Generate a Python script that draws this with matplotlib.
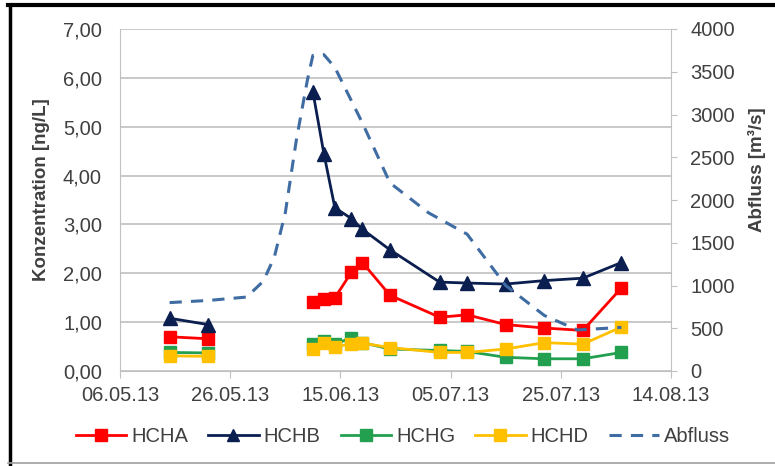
import matplotlib
matplotlib.use('Agg')
import matplotlib.pyplot as plt
import matplotlib.dates as mdates
from matplotlib.lines import Line2D
import numpy as np
import pandas as pd

plt.rcParams['font.family'] = ['Liberation Sans', 'DejaVu Sans']

# Probenahmetermine und Konzentrationen [ng/L]
sample_dates = ['15.05.13', '22.05.13', '10.06.13', '12.06.13', '14.06.13', '17.06.13', '19.06.13',
                '24.06.13', '03.07.13', '08.07.13', '15.07.13', '22.07.13', '29.07.13', '05.08.13']
hcha = [0.70, 0.66, 1.42, 1.48, 1.50, 2.02, 2.22, 1.55, 1.10, 1.15, 0.95, 0.88, 0.83, 1.70]
hchb = [1.08, 0.95, 5.72, 4.45, 3.34, 3.12, 2.90, 2.48, 1.82, 1.80, 1.78, 1.85, 1.90, 2.22]
hchg = [0.38, 0.37, 0.55, 0.62, 0.55, 0.68, 0.58, 0.45, 0.42, 0.40, 0.28, 0.25, 0.25, 0.38]
hchd = [0.31, 0.30, 0.45, 0.57, 0.50, 0.55, 0.57, 0.48, 0.38, 0.38, 0.45, 0.58, 0.55, 0.90]

# Abfluss [m3/s]
q_dates = ['15.05.13', '22.05.13', '29.05.13', '01.06.13', '03.06.13', '05.06.13', '07.06.13',
           '09.06.13', '10.06.13', '12.06.13', '14.06.13', '19.06.13', '24.06.13', '01.07.13',
           '08.07.13', '15.07.13', '22.07.13', '28.07.13', '05.08.13']
abfluss = [800, 825, 865, 1050, 1330, 1850, 2700, 3400, 3690, 3700, 3550, 2900, 2200, 1850,
           1600, 1000, 650, 480, 510]

x_ticks = ['06.05.13', '26.05.13', '15.06.13', '05.07.13', '25.07.13', '14.08.13']

t = pd.to_datetime(sample_dates, format='%d.%m.%y')
tq = pd.to_datetime(q_dates, format='%d.%m.%y')
xt = pd.to_datetime(x_ticks, format='%d.%m.%y')

txt = '#404040'
grid = '#C0C0C0'
fs = 14.5

fig = plt.figure(figsize=(7.75, 4.66), dpi=100)
ax = fig.add_axes([120/775, 1-371/466, 551/775, 342/466])
ax2 = ax.twinx()

series = [('HCHA', hcha, '#FF0000', 's', 9),
          ('HCHB', hchb, '#0A1E50', '^', 9.5),
          ('HCHG', hchg, '#22A050', 's', 9),
          ('HCHD', hchd, '#FFC000', 's', 9)]
# Messluecke zwischen 22.05. und 10.06. -> zwei Abschnitte
parts = [slice(0, 2), slice(2, None)]
handles = []
for name, vals, col, mk, ms in series:
    vals = np.array(vals)
    for p in parts:
        ax.plot(t[p], vals[p], color=col, lw=2.0, marker=mk, ms=ms, mec=col)
    handles.append(Line2D([], [], color=col, lw=2.0, marker=mk, ms=ms - 1, mec=col, label=name))

ax2.plot(tq, abfluss, color='#3F6CA3', lw=2.2, ls=(0, (4, 3)))
handles.append(Line2D([], [], color='#3F6CA3', lw=2.2, ls=(0, (4, 3)), label='Abfluss'))

ax.set_xlim(xt[0], xt[-1])
ax.set_xticks(xt)
ax.xaxis.set_major_formatter(mdates.DateFormatter('%d.%m.%y'))
ax.set_ylim(0, 7)
ax.set_yticks(np.arange(0, 8, 1))
ax.set_yticklabels([('%.2f' % v).replace('.', ',') for v in range(8)])
ax2.set_ylim(0, 4000)
ax2.set_yticks(np.arange(0, 4001, 500))

ax.grid(axis='y', color=grid, lw=1.2)
ax.set_axisbelow(True)
for a in (ax, ax2):
    for s in a.spines.values():
        s.set_visible(False)
ax.spines['left'].set_visible(True)
ax.spines['left'].set_color(grid)
ax.spines['bottom'].set_visible(True)
ax.spines['bottom'].set_color(grid)
ax2.spines['right'].set_visible(True)
ax2.spines['right'].set_color(grid)

ax.tick_params(axis='y', length=0, pad=13, labelsize=fs, labelcolor=txt)
ax.tick_params(axis='x', length=5, color=grid, pad=6, labelsize=fs, labelcolor=txt)
ax2.tick_params(axis='y', length=4, color=grid, pad=10, labelsize=fs, labelcolor=txt)

ax.set_ylabel('Konzentration [ng/L]', fontsize=13.5, fontweight='bold', color=txt)
ax.yaxis.set_label_coords(-0.127, 0.53)
ax2.set_ylabel('Abfluss [m³/s]', fontsize=13.5, fontweight='bold', color=txt)
ax2.yaxis.set_label_coords(1.14, 0.59)

fig.legend(handles=handles, loc='center', bbox_to_anchor=(0.52, 1-437/466), ncol=5,
           frameon=False, fontsize=fs, handlelength=2.5, columnspacing=1.0,
           handletextpad=0.25, labelcolor=txt)

# Rahmen
fig.add_artist(Line2D([9.5/775, 9.5/775], [0, 1-5/466], color='black', lw=2.5))
fig.add_artist(Line2D([8/775, 1], [1-5/466, 1-5/466], color='black', lw=3))
fig.add_artist(Line2D([8/775, 1], [3/466, 3/466], color='#A0A0A0', lw=1.2))

fig.savefig('out.png', dpi=100)
